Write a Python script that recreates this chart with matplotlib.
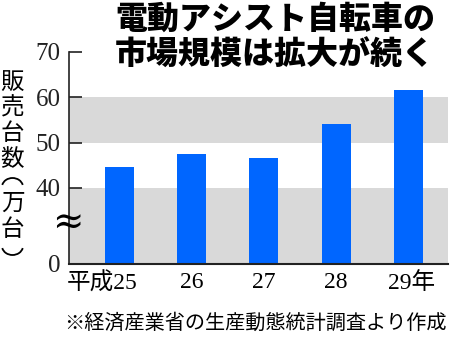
import numpy as np
import matplotlib
matplotlib.use("Agg")
import matplotlib.pyplot as plt
from matplotlib.patches import Arc
from matplotlib.transforms import ScaledTranslation

# 販売台数（万台）
years = ["平成25", "26", "27", "28", "29年"]
sales = [44.6, 47.5, 46.7, 54.1, 61.7]
yticks = [0, 40, 50, 60, 70]

title = "電動アシスト自転車の\n市場規模は拡大が続く"
ylabel_chars = ["販", "売", "台", "数", "万", "台"]
note = "※経済産業省の生産動態統計調査より作成"

serif = ["Liberation Serif", "Noto Sans CJK JP"]
sans = ["Noto Sans CJK JP", "DejaVu Sans"]

# 0〜40 を圧縮して縦軸を省略表示
BREAK = 40.0
K = 0.42


def fwd(v):
    v = np.asarray(v, dtype=float)
    return np.where(v >= BREAK, v, BREAK - (BREAK - v) * K)


def inv(y):
    y = np.asarray(y, dtype=float)
    return np.where(y >= BREAK, y, BREAK - (BREAK - y) / K)


W, H = 450, 341
fig = plt.figure(figsize=(W / 100, H / 100), dpi=100)
ax = fig.add_axes([69 / W, 1 - 264 / H, (448 - 69) / W, (264 - 52) / H])
ax.set_yscale("function", functions=(fwd, inv))

ax.axhspan(0, 40, color="#d9d9d9", lw=0, zorder=0)
ax.axhspan(50, 60, color="#d9d9d9", lw=0, zorder=0)

x = np.arange(len(years))
ax.bar(x, sales, width=0.40, color="#0066ff", zorder=2)

ax.set_ylim(0, 70)
ax.set_xlim(-0.70, 4.55)
ax.set_yticks(yticks)
ax.set_yticklabels([str(t) for t in yticks], family=serif, fontsize=18)
ax.yaxis.set_minor_locator(matplotlib.ticker.NullLocator())
ax.tick_params(axis="y", direction="in", length=9.5, width=1.2, pad=6, colors="#222222")
ax.tick_params(axis="x", length=0, pad=6)

ax.set_xticks(x)
ax.set_xticklabels(years, family=serif, fontsize=17)
labels = ax.get_xticklabels()
labels[0].set_ha("right")
labels[0].set_transform(labels[0].get_transform() + ScaledTranslation(0.18, 0, fig.dpi_scale_trans))
labels[-1].set_ha("left")
labels[-1].set_transform(labels[-1].get_transform() + ScaledTranslation(-0.20, 0, fig.dpi_scale_trans))

for side in ["top", "right"]:
    ax.spines[side].set_visible(False)
ax.spines["left"].set_linewidth(1.2)
ax.spines["bottom"].set_linewidth(1.5)
ax.spines["left"].set_color("#222222")
ax.spines["bottom"].set_color("#222222")

# 省略記号
fig.text(68 / W, 1 - 223 / H, "≈", family=["DejaVu Serif"], fontsize=27,
         ha="center", va="center")

# 縦書きの軸ラベル
ys = [82, 108, 134, 160, 203, 230]
for ch, yp in zip(ylabel_chars, ys):
    fig.text(12.5 / W, 1 - yp / H, ch, family=sans, fontsize=17,
             ha="center", va="center")

# 縦書き用の括弧 ︵ ︶
fig.add_artist(Arc((12.5 / W, 1 - 187 / H), 21 / W, 18 / H, theta1=15, theta2=165,
                   transform=fig.transFigure, lw=1.3, color="black"))
fig.add_artist(Arc((12.5 / W, 1 - 246 / H), 21 / W, 18 / H, theta1=195, theta2=345,
                   transform=fig.transFigure, lw=1.3, color="black"))

fig.text(115 / W, 1 - 2 / H, title, family=sans, fontsize=23,
         fontweight="heavy", ha="left", va="top", linespacing=1.1)

fig.text(447 / W, 1 - 323 / H, note, family=sans, fontsize=14.5,
         ha="right", va="center")

fig.savefig("out.png", dpi=100)
